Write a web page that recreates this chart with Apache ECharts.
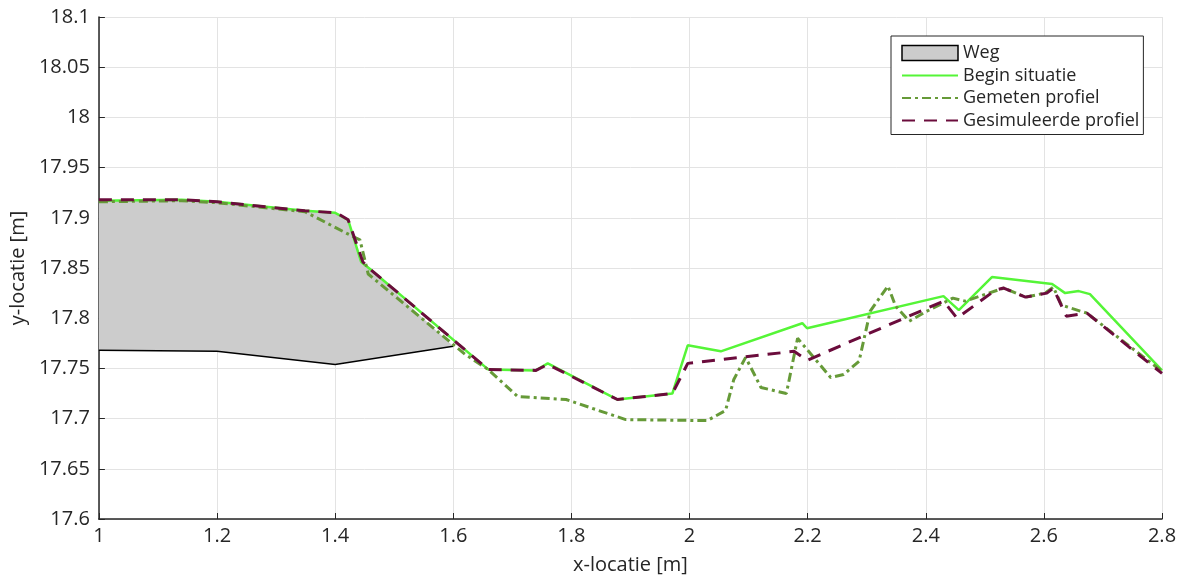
<!DOCTYPE html>
<html>
<head>
<meta charset="utf-8">
<title>Profiel</title>
<script src="https://cdn.jsdelivr.net/npm/echarts@6/dist/echarts.min.js"></script>
<style>
  html, body { margin: 0; padding: 0; background: #fff; }
  #chart { width: 1182px; height: 580px; }
</style>
</head>
<body>
<div id="chart"></div>
<script>
// weg (grijs vlak): bovenrand en onderrand
const wegTopX = [1, 1.14, 1.2, 1.349, 1.4, 1.422, 1.444, 1.459, 1.6];
const wegTopY = [17.917, 17.918, 17.916, 17.907, 17.905, 17.898, 17.856, 17.849, 17.772];
const wegBottomX = [1, 1.2, 1.4, 1.6];
const wegBottomY = [17.768, 17.767, 17.754, 17.772];

// begin situatie
const beginX = [1, 1.14, 1.2, 1.349, 1.4, 1.422, 1.444, 1.459, 1.659, 1.74, 1.76, 1.878, 1.971, 1.997, 2.053, 2.191, 2.199, 2.43, 2.456, 2.512, 2.614, 2.636, 2.659, 2.678, 2.8];
const beginY = [17.917, 17.918, 17.916, 17.907, 17.905, 17.898, 17.856, 17.849, 17.749, 17.748, 17.755, 17.719, 17.725, 17.773, 17.767, 17.795, 17.79, 17.822, 17.808, 17.841, 17.834, 17.825, 17.827, 17.824, 17.748];

// gemeten profiel
const gemetenX = [1, 1.14, 1.2, 1.349, 1.428, 1.442, 1.456, 1.62, 1.659, 1.709, 1.791, 1.892, 2.03, 2.061, 2.075, 2.095, 2.121, 2.164, 2.183, 2.239, 2.261, 2.287, 2.306, 2.336, 2.349, 2.372, 2.402, 2.446, 2.467, 2.532, 2.569, 2.602, 2.616, 2.63, 2.673, 2.8];
const gemetenY = [17.916, 17.917, 17.915, 17.906, 17.882, 17.878, 17.844, 17.764, 17.749, 17.722, 17.719, 17.699, 17.698, 17.708, 17.739, 17.761, 17.731, 17.725, 17.78, 17.741, 17.744, 17.757, 17.807, 17.832, 17.812, 17.797, 17.807, 17.82, 17.817, 17.83, 17.821, 17.825, 17.831, 17.813, 17.805, 17.747];

// gesimuleerde profiel
const simX = [1, 1.14, 1.2, 1.349, 1.402, 1.422, 1.447, 1.461, 1.659, 1.74, 1.76, 1.878, 1.971, 1.997, 2.177, 2.199, 2.43, 2.453, 2.518, 2.532, 2.569, 2.605, 2.616, 2.638, 2.673, 2.8];
const simY = [17.918, 17.918, 17.916, 17.907, 17.905, 17.898, 17.856, 17.848, 17.749, 17.748, 17.754, 17.719, 17.725, 17.755, 17.767, 17.758, 17.817, 17.8, 17.828, 17.83, 17.821, 17.825, 17.83, 17.802, 17.805, 17.745];

const legendNames = ["Weg", "Begin situatie", "Gemeten profiel", "Gesimuleerde profiel"];

const zip = (xs, ys) => xs.map((x, i) => [x, ys[i]]);

const font = "'Open Sans', sans-serif";
const textColor = "#262626";
const chart = echarts.init(document.getElementById("chart"));

const option = {
  animation: false,
  grid: { left: 97, right: 20, top: 17, bottom: 58 },
  legend: {
    orient: "vertical",
    left: 891,
    top: 36,
    padding: [8, 4, 5, 10],
    backgroundColor: "#fff",
    borderColor: textColor,
    borderWidth: 1,
    borderRadius: 0,
    itemWidth: 56,
    itemHeight: 15,
    itemGap: 4.5,
    textStyle: { fontFamily: font, fontSize: 18, color: textColor, lineHeight: 16 },
    data: [
      { name: legendNames[0], icon: "rect", itemStyle: { color: "#cccccc", borderColor: "#000", borderWidth: 1.5 } },
      { name: legendNames[1], itemStyle: { opacity: 0 } },
      { name: legendNames[2], itemStyle: { opacity: 0 } },
      { name: legendNames[3], itemStyle: { opacity: 0 } },
    ],
  },
  xAxis: {
    type: "value",
    min: 1,
    max: 2.8,
    interval: 0.2,
    name: "x-locatie [m]",
    nameLocation: "middle",
    nameGap: 36,
    nameTextStyle: { fontFamily: font, fontSize: 20, color: textColor },
    axisLine: { onZero: false, lineStyle: { color: textColor, width: 1.5 } },
    axisTick: { inside: true, length: 6, lineStyle: { color: textColor } },
    axisLabel: {
      margin: 7,
      fontFamily: font,
      fontSize: 20,
      color: textColor,
      formatter: (v) => String(+v.toFixed(1)),
    },
    splitLine: { show: true, lineStyle: { color: "#e3e3e3", width: 1 } },
  },
  yAxis: {
    type: "value",
    min: 17.6,
    max: 18.1,
    interval: 0.05,
    name: "y-locatie [m]",
    nameLocation: "middle",
    nameGap: 68,
    nameTextStyle: { fontFamily: font, fontSize: 20, color: textColor },
    axisLine: { show: true, onZero: false, lineStyle: { color: textColor, width: 1.5 } },
    axisTick: { show: true, inside: true, length: 6, lineStyle: { color: textColor } },
    axisLabel: {
      margin: 9,
      fontFamily: font,
      fontSize: 20,
      color: textColor,
      formatter: (v) => String(+v.toFixed(2)),
    },
    splitLine: { show: true, lineStyle: { color: "#e3e3e3", width: 1 } },
  },
  series: [
    {
      // grijs vlak van de weg, via de assen omgerekend
      name: legendNames[0],
      type: "custom",
      data: [0],
      itemStyle: { color: "#cccccc", borderColor: "#000" },
      renderItem: (params, api) => {
        const top = wegTopX.map((x, i) => api.coord([x, wegTopY[i]]));
        const bottom = wegBottomX.map((x, i) => api.coord([x, wegBottomY[i]]));
        return {
          type: "group",
          children: [
            {
              type: "polygon",
              shape: { points: top.concat(bottom.slice().reverse()) },
              style: { fill: "#cccccc", stroke: null },
            },
            {
              type: "polyline",
              shape: { points: bottom },
              style: { fill: null, stroke: "#000", lineWidth: 1.5 },
            },
          ],
        };
      },
    },
    {
      name: legendNames[1],
      type: "line",
      data: zip(beginX, beginY),
      showSymbol: false,
      symbol: "none",
      lineStyle: { color: "#55f537", width: 2.5 },
      itemStyle: { color: "#55f537" },
    },
    {
      name: legendNames[2],
      type: "line",
      data: zip(gemetenX, gemetenY),
      showSymbol: false,
      symbol: "none",
      lineStyle: { color: "#669a38", width: 3, type: [9, 4, 3, 4] },
      itemStyle: { color: "#669a38" },
    },
    {
      name: legendNames[3],
      type: "line",
      data: zip(simX, simY),
      showSymbol: false,
      symbol: "none",
      lineStyle: { color: "#6b0c3c", width: 3, type: [13, 9] },
      itemStyle: { color: "#6b0c3c" },
    },
  ],
};

chart.setOption(option);
</script>
</body>
</html>
